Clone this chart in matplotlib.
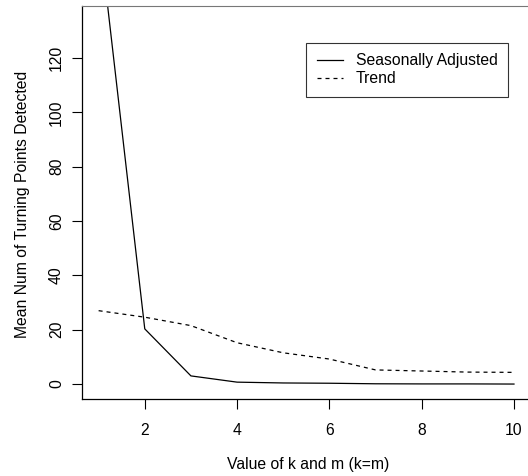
import numpy as np
import matplotlib
matplotlib.use("Agg")
import matplotlib.pyplot as plt

plt.rcParams['font.family'] = ['Liberation Sans', 'DejaVu Sans']

k = [1, 2, 3, 4, 5, 6, 7, 8, 9, 10]
seas_adj = [168.0, 20.3, 3.0, 0.7, 0.4, 0.3, 0.1, 0.05, 0.05, 0.0]
trend = [27.0, 24.6, 21.5, 15.2, 11.5, 9.2, 5.2, 4.8, 4.4, 4.3]

W, H = 528, 476
left, right, top, bottom = 82, 530.6, 6, 399
fig = plt.figure(figsize=(W/100, H/100), dpi=100)
ax = fig.add_axes([left/W, 1-bottom/H, (right-left)/W, (bottom-top)/H])

ax.plot(k, seas_adj, color='black', lw=0.9, label='Seasonally Adjusted')
ax.plot(k, trend, color='black', lw=0.9, ls=(0, (3.2, 3.2)), label='Trend')

ax.set_xlim(0.64, 10.36)
ax.set_ylim(-5.5, 139.1)
ax.set_xticks([2, 4, 6, 8, 10])
ax.set_yticks([0, 20, 40, 60, 80, 100, 120])
ax.tick_params(axis='both', direction='out', length=7, width=0.8, labelsize=11.3)
ax.tick_params(axis='x', pad=10)
ax.tick_params(axis='y', pad=6)
for lab in ax.get_yticklabels():
    lab.set_rotation(90)
    lab.set_va('center')

ax.spines['right'].set_visible(False)
ax.spines['top'].set_color('#777777')
for s in ['left', 'bottom']:
    ax.spines[s].set_linewidth(0.9)

ax.set_xlabel("Value of k and m (k=m)", fontsize=11.3)
ax.set_ylabel("Mean Num of Turning Points Detected", fontsize=11.3)
ax.xaxis.set_label_coords(0.503, (bottom-465)/(bottom-top), transform=ax.transAxes)
ax.yaxis.set_label_coords((23-left)/(right-left), 0.494, transform=ax.transAxes)
ax.xaxis.label.set_va('center')
ax.yaxis.label.set_va('center')

leg = ax.legend(loc='upper right', bbox_to_anchor=((508-left)/(right-left), (bottom-43)/(bottom-top)),
                frameon=True, fancybox=False, edgecolor='black', fontsize=11.3,
                handlelength=1.7, handletextpad=0.8, borderpad=0.65, labelspacing=0.2,
                borderaxespad=0)
leg.get_frame().set_linewidth(0.8)

plt.savefig("out.png", dpi=100)
